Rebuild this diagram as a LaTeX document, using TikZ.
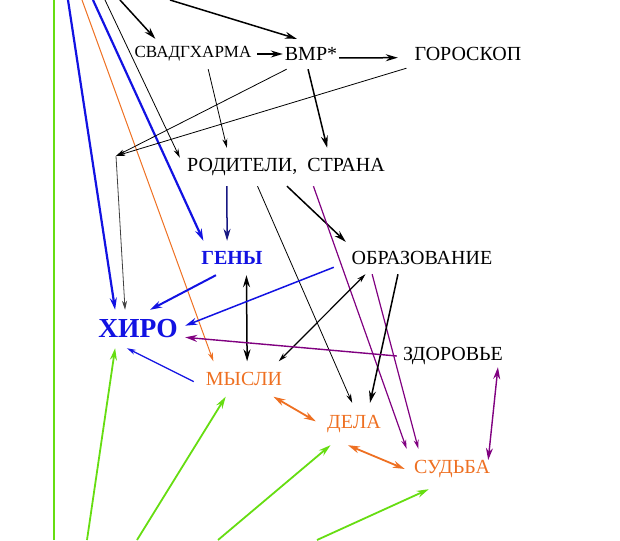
\documentclass[tikz,border=0pt]{standalone}
\usepackage{fontspec}
\setmainfont{Liberation Serif}
\usepackage{tikz}
\usetikzlibrary{arrows.meta}
\definecolor{hblue}{RGB}{18,18,226}
\definecolor{navy}{RGB}{24,24,130}
\definecolor{orng}{RGB}{238,112,34}
\definecolor{purp}{RGB}{128,0,128}
\definecolor{lime}{RGB}{102,221,17}
\begin{document}
\begin{tikzpicture}[x=1pt,y=-1pt,
    every node/.style={inner sep=0pt,font=\fontsize{20}{20}\selectfont},
    hbold/.style={text=hblue,font=\fontsize{20}{20}\selectfont\bfseries},
    otxt/.style={text=orng},
    >={Stealth[length=9pt,width=5pt]},
    fine/.style={line width=0.8pt},
    heavy/.style={line width=1.5pt,>={Stealth[length=12pt,width=7pt]}}]
  \useasboundingbox (0,0) rectangle (620,540);
  % the words
  \node[font=\fontsize{17}{17}\selectfont,minimum width=128,minimum height=30] (S) at (193,54) {СВАДГХАРМА};
  \node[minimum width=56,minimum height=30] (V) at (311,54) {ВМР*};
  \node[minimum width=140,minimum height=28] (G) at (468,54) {ГОРОСКОП};
  \node[minimum width=212,minimum height=38] (R) at (286,167) {РОДИТЕЛИ,\ \ СТРАНА};
  \node[hbold,minimum width=70,minimum height=34] (N) at (232,258) {ГЕНЫ};
  \node[minimum width=176,minimum height=32] (O) at (422,258) {ОБРАЗОВАНИЕ};
  \node[hbold,font=\fontsize{27.5}{27.5}\selectfont\bfseries,minimum width=94,minimum height=38] (H) at (138,329) {ХИРО};
  \node[minimum width=112,minimum height=22] (Z) at (453,356) {ЗДОРОВЬЕ};
  \node[otxt,minimum width=100,minimum height=35] (M) at (244,379) {МЫСЛИ};
  \node[otxt,minimum width=76,minimum height=42] (D) at (354,424) {ДЕЛА};
  \node[otxt,minimum width=94,minimum height=40] (F) at (452,469) {СУДЬБА};
  % loose ends
  \coordinate (J) at (116,156);
  \coordinate (T1) at (68,0);
  \coordinate (T2) at (82,0);
  \coordinate (T3) at (93,0);
  \coordinate (T4) at (105,0);
  \coordinate (T5) at (120,0);
  \coordinate (T6) at (170,0);
  \coordinate (B1) at (87,540);
  \coordinate (B2) at (137,540);
  \coordinate (B3) at (218,540);
  \coordinate (B4) at (317,540);
  \coordinate (L1) at (54,0);
  \coordinate (L2) at (54,540);
  % from above
  \draw[heavy,hblue,line width=2.2pt,->] (T1) -- (H.140);
  \draw[orng,line width=1pt,->] (T2) -- (M.150);
  \draw[heavy,hblue,line width=2.2pt,->] (T3) -- (N.149);
  \draw[fine,->] (T4) -- (R.175);
  \draw[heavy,->] (T5) -- (S.158);
  \draw[heavy,->] (T6) -- (V.133);
  % top rows
  \draw[heavy,->] (S.east) -- (V.west);
  \draw[heavy,->] (V.-8) -- (G.183);
  \draw[heavy,->] (V.259) -- (R.25);
  \draw[fine,->] (S.-45) -- (R.162);
  \draw[fine,->] (V.212) -- (J);
  \draw[fine,->] (G.193) -- (J);
  \draw[fine,black!75,->] (J) -- (H.124);
  \draw[heavy,navy,->] (R.198) -- (N.106);
  \draw[fine,->] (R.214) -- (D.95);
  \draw[heavy,->] (R.273) -- (O.168);
  \draw[purp,line width=1.2pt,->] (R.-35) -- (F.156);
  \draw[purp,line width=1.2pt,->] (O.198) -- (F.149);
  \draw[heavy,->] (O.214) -- (D.53);
  \draw[black,line width=1.2pt,<->] (O.196) -- (M.27);
  \draw[heavy,<->] (N.-50) -- (M.80);
  % into ХИРО
  \draw[heavy,hblue,line width=2pt,->] (N.227) -- (H.58);
  \draw[heavy,hblue,->] (O.186) -- (H.4);
  \draw[heavy,purp,line width=1.4pt,->] (Z.west) -- (H.-10);
  \draw[hblue,line width=1.3pt,->] (M.183) -- (H.240);
  % chain
  \draw[heavy,orng,line width=1.8pt,<->] (M.-31) -- (D.176);
  \draw[heavy,orng,line width=1.8pt,<->] (D.254) -- (F.west);
  \draw[heavy,purp,line width=1.4pt,<->] (Z.-14) -- ([xshift=-11pt,yshift=9pt]F.east);
  % from below
  \draw[lime,line width=2.5pt] (L1) -- (L2);
  \draw[heavy,lime,line width=1.8pt,->] (B1) -- (H.220);
  \draw[heavy,lime,line width=1.8pt,->] (B2) -- (M.224);
  \draw[heavy,lime,line width=1.8pt,->] (B3) -- (D.222);
  \draw[heavy,lime,line width=1.8pt,->] (B4) -- (F.221);
\end{tikzpicture}
\end{document}
